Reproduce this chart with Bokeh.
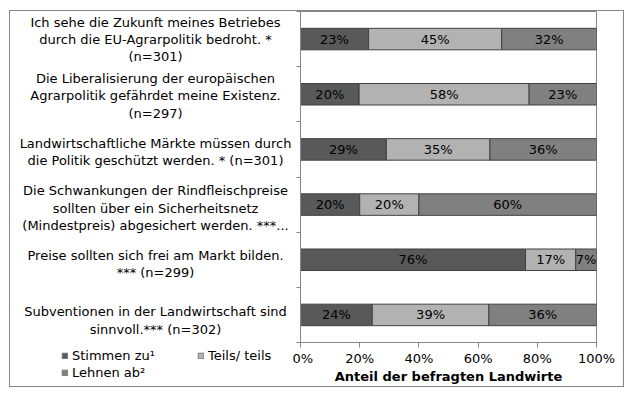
from bokeh.plotting import figure
from bokeh.layouts import row, column
from bokeh.models import (ColumnDataSource, Range1d, FixedTicker, LabelSet,
                          Legend, LegendItem, NumeralTickFormatter)
from bokeh.core.properties import value
from bokeh.embed import file_html
from bokeh.resources import INLINE

# ---------------- data ----------------
statements = [
    "Ich sehe die Zukunft meines Betriebes\ndurch die EU-Agrarpolitik bedroht. *\n(n=301)",
    "Die Liberalisierung der europäischen\nAgrarpolitik gefährdet meine Existenz.\n(n=297)",
    "Landwirtschaftliche Märkte müssen durch\ndie Politik geschützt werden. * (n=301)",
    "Die Schwankungen der Rindfleischpreise\nsollten über ein Sicherheitsnetz\n(Mindestpreis) abgesichert werden. ***...",
    "Preise sollten sich frei am Markt bilden.\n*** (n=299)",
    "Subventionen in der Landwirtschaft sind\nsinnvoll.*** (n=302)",
]
series_names = ["Stimmen zu\u00b9", "Teils/ teils", "Lehnen ab\u00b2"]
stimmen = [23, 20, 29, 20, 76, 24]
teils = [45, 58, 35, 20, 17, 39]
lehnen = [32, 23, 36, 60, 7, 36]
x_ticks = [0, 0.2, 0.4, 0.6, 0.8, 1.0]
axis_title = "Anteil der befragten Landwirte"

colors = ["#595959", "#b2b2b2", "#808080"]
FONT = "DejaVu Sans"
FS = "13px"
GRID = "#868686"

# ---------------- derived geometry ----------------
n = len(statements)
ypos = [n - i - 0.5 for i in range(n)]          # first statement on top
series_vals = [stimmen, teils, lehnen]
totals = [sum(v) for v in zip(*series_vals)]
data = {"y": ypos}
lab_x, lab_y, lab_t = [], [], []
cum = [0.0] * n
for k, vals in enumerate(series_vals):
    lefts, rights = [], []
    for i, v in enumerate(vals):
        frac = v / totals[i]
        lefts.append(cum[i])
        rights.append(cum[i] + frac)
        lab_x.append(cum[i] + frac / 2)
        lab_y.append(ypos[i])
        lab_t.append(f"{v}%")
        cum[i] += frac
    data[f"l{k}"] = lefts
    data[f"r{k}"] = rights
src = ColumnDataSource(data)
lab_src = ColumnDataSource(dict(x=lab_x, y=lab_y, t=lab_t))

# ---------------- layout sizes (px) ----------------
H = 375                 # inner height of the chart box
LW = 282                # width of label panel
RW = 331                # width of bar panel
R_LEFT, R_RIGHT, R_TOP, R_BOTTOM = 8, 27, 0, 38

# ---------------- bar figure ----------------
p = figure(width=RW, height=H,
           y_range=Range1d(0, n), x_range=Range1d(0, 1),
           output_backend="svg", toolbar_location=None,
           min_border_left=R_LEFT, min_border_right=R_RIGHT,
           min_border_top=R_TOP, min_border_bottom=R_BOTTOM)
p.title.visible = False

renderers = []
for k in range(3):
    r = p.hbar(y="y", left=f"l{k}", right=f"r{k}", height=0.39, source=src,
               fill_color=colors[k], line_color="#404040", line_width=1)
    renderers.append(r)

p.add_layout(LabelSet(x="x", y="y", text="t", source=lab_src,
                      text_align="center", text_baseline="middle",
                      text_font=value(FONT), text_font_size=FS,
                      text_color="#000000"))

p.grid.visible = False
p.outline_line_color = GRID
p.xaxis.ticker = FixedTicker(ticks=x_ticks)
p.xaxis.formatter = NumeralTickFormatter(format="0%")
p.xaxis.axis_line_color = GRID
p.xaxis.major_tick_line_color = GRID
p.xaxis.major_tick_out = 5
p.xaxis.major_tick_in = 0
p.xaxis.minor_tick_line_color = None
p.xaxis.major_label_standoff = 3
p.xaxis.major_label_text_font = FONT
p.xaxis.major_label_text_font_size = FS
p.xaxis.major_label_text_color = "#000000"
p.xaxis.axis_label = axis_title
p.xaxis.axis_label_standoff = 0
p.xaxis.axis_label_text_font = FONT
p.xaxis.axis_label_text_font_size = FS
p.xaxis.axis_label_text_font_style = "bold"
p.xaxis.axis_label_text_color = "#000000"

p.yaxis.ticker = FixedTicker(ticks=list(range(0, n + 1)))
p.yaxis.major_label_text_font_size = "0px"
p.yaxis.major_label_standoff = 0
p.yaxis.axis_line_color = GRID
p.yaxis.major_tick_line_color = GRID
p.yaxis.major_tick_out = 4
p.yaxis.major_tick_in = 0
p.yaxis.minor_tick_line_color = None

# ---------------- category label figure (same rows as bar frame) ----------------
ql = figure(width=LW, height=H - R_TOP - R_BOTTOM,
            x_range=Range1d(0, LW), y_range=Range1d(0, n),
            x_axis_type=None, y_axis_type=None,
            output_backend="svg", toolbar_location=None,
            min_border_left=0, min_border_right=0,
            min_border_top=0, min_border_bottom=0)
ql.title.visible = False
ql.grid.visible = False
ql.outline_line_color = None

cat_src = ColumnDataSource(dict(y=ypos, t=statements))
ql.text(x=145, y="y", text="t", source=cat_src,
        text_align="center", text_baseline="middle",
        text_font=value(FONT), text_font_size=FS, text_line_height=1.15,
        text_color="#000000")

# ---------------- legend figure (below the labels) ----------------
lf = figure(width=LW, height=R_BOTTOM,
            x_range=Range1d(0, LW), y_range=Range1d(0, 1),
            x_axis_type=None, y_axis_type=None,
            output_backend="svg", toolbar_location=None,
            min_border_left=0, min_border_right=0,
            min_border_top=0, min_border_bottom=0)
lf.title.visible = False
lf.grid.visible = False
lf.outline_line_color = None

proxies = [lf.hbar(y="y", left=f"l{k}", right=f"r{k}", height=0.39,
                   source=src, fill_color=colors[k], line_color="#7a7a7a",
                   visible=False)
           for k in range(3)]
order = [0, 2, 1]   # column-major fill: Stimmen, Lehnen | Teils
legend = Legend(items=[LegendItem(label=series_names[k], renderers=[proxies[k]])
                       for k in order],
                location=(51, 6), ncols=2,
                glyph_width=7, glyph_height=7, label_standoff=4,
                label_width=123, label_height=13, spacing=2,
                padding=0, margin=0,
                label_text_font=FONT, label_text_font_size=FS,
                label_text_color="#000000",
                inactive_fill_alpha=0,
                border_line_color=None, background_fill_alpha=0)
lf.add_layout(legend)

layout = row(column(ql, lf, spacing=0), p, spacing=0,
             styles={"border": "1px solid #868686", "margin-left": "9px",
                     "margin-top": "10px"})

open("out.html", "w").write(file_html(layout, INLINE))
